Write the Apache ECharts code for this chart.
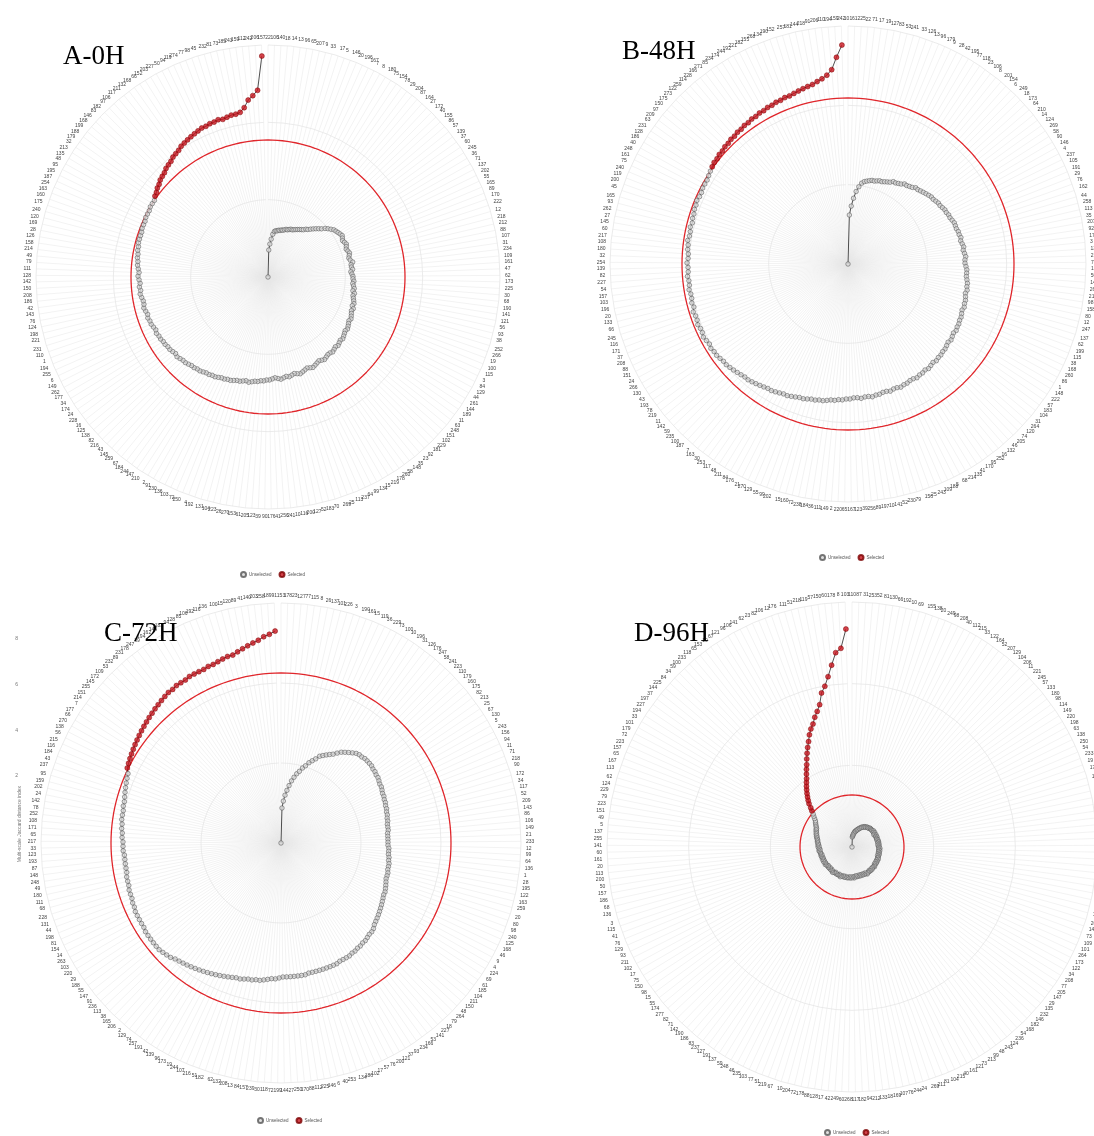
<!DOCTYPE html>
<html><head><meta charset="utf-8">
<script src="https://cdn.jsdelivr.net/npm/echarts@6/dist/echarts.min.js"></script>
<style>html,body{margin:0;padding:0;background:#fff}#c{width:1094px;height:1136px}</style>
</head><body><div id="c"></div>
<script>
// ---------- category labels (node ids around each ring, clockwise from top) ----------
const labelsA = [
22,106,140,18,14,13,96,65,207,9,33,17,5,146,20,
196,167,7,8,180,75,154,78,29,204,87,164,27,172,40,
155,86,57,139,37,60,245,36,71,137,202,55,165,89,170,
222,12,218,212,88,107,31,234,109,161,47,62,173,225,30,
68,190,141,121,56,93,38,252,266,19,100,115,3,84,129,
44,261,144,189,11,63,248,151,102,229,181,92,23,35,148,
58,260,178,219,15,134,99,64,237,113,25,269,70,183,52,
127,200,116,10,241,256,41,176,90,39,123,205,61,153,270,
26,223,104,131,192,4,250,72,103,136,230,91,2,210,147,
244,184,67,259,145,43,216,82,138,125,16,228,24,174,34,
177,262,149,6,255,194,1,110,231,221,198,124,76,143,42,
186,208,150,142,128,111,79,49,214,158,126,28,169,120,240,
175,160,163,254,187,195,95,48,135,213,32,179,188,199,168,
146,83,182,97,106,117,211,132,168,66,152,203,227,50,94,
119,274,77,98,45,232,81,73,185,243,159,112,242,206,157];
const labelsB = [
101,61,225,22,71,17,19,127,83,53,241,33,126,13,96,
179,9,28,42,195,77,118,23,106,8,201,154,6,249,18,
173,64,210,14,124,269,58,90,146,4,237,105,191,29,76,
162,44,258,113,35,207,92,177,3,131,229,70,189,50,143,
26,216,98,158,80,12,247,137,62,199,115,38,168,260,86,
1,148,222,57,183,104,31,264,120,74,205,46,132,16,252,
95,170,41,135,214,68,5,188,109,243,25,156,79,230,52,
141,10,197,89,256,39,123,167,65,220,2,149,111,36,184,
238,72,160,15,202,99,55,129,270,21,176,84,211,48,117,
253,30,163,7,187,100,235,59,142,11,219,78,193,43,130,
266,24,151,88,208,37,171,116,245,66,133,20,196,103,157,
54,227,82,139,254,32,180,108,217,60,145,27,262,93,165,
45,200,119,240,75,161,248,40,186,128,231,63,209,97,150,
175,273,122,259,114,228,166,271,85,234,174,244,192,221,182,
155,268,134,190,152,257,181,144,218,91,206,110,194,159,242];
const labelsC = [
153,178,23,127,77,115,8,26,137,101,226,3,190,161,15,
119,36,229,73,100,10,196,31,126,176,247,58,241,223,110,
179,160,175,82,213,25,67,130,5,243,156,94,11,71,218,
90,172,34,117,52,209,143,86,106,149,21,233,12,99,64,
136,1,28,195,122,163,259,20,80,98,240,125,168,46,9,
4,224,69,61,185,104,211,150,48,264,79,18,227,141,53,
166,234,93,37,121,200,76,57,17,102,186,134,253,40,6,
146,225,112,88,170,250,27,144,199,72,118,30,239,157,84,
13,208,132,62,182,51,216,107,244,19,173,96,139,42,191,
257,74,129,2,206,165,38,113,236,91,147,55,188,29,220,
103,263,14,154,81,198,44,131,228,68,111,180,49,248,148,
87,193,123,33,217,65,171,108,252,78,142,24,202,159,95,
237,43,184,116,215,56,138,270,66,177,7,214,151,255,145,
172,109,53,232,89,231,178,247,39,194,162,144,183,94,128,
85,106,192,116,136,100,15,120,89,41,140,203,258,189,91];
const labelsD = [
110,87,31,253,52,81,130,66,192,10,69,155,138,20,249,
98,208,40,112,215,33,122,164,52,207,129,104,206,11,221,
245,57,133,180,98,114,149,220,198,63,138,250,54,233,19,
171,132,261,45,170,78,140,16,212,176,148,108,58,155,266,
13,167,112,175,238,42,185,209,149,73,109,101,264,173,122,
34,208,77,205,147,29,135,232,146,182,168,54,236,124,243,
48,99,213,73,121,161,40,215,104,81,211,269,24,244,76,
107,169,18,133,212,94,182,117,268,60,249,42,17,128,88,
178,72,204,10,67,219,51,77,103,235,46,248,59,137,191,
127,237,83,186,190,142,71,82,277,174,55,15,98,150,75,
17,102,211,93,129,76,41,115,3,136,68,186,157,50,200,
113,20,161,60,141,255,137,5,49,151,223,79,229,124,62,
113,167,65,157,223,72,179,101,33,194,227,197,37,144,225,
84,34,59,100,233,118,65,153,10,67,121,96,106,141,62,
23,82,106,12,176,111,51,218,119,57,150,60,178,8,103];

// ---------- radial values (distance index, same order as labels) ----------
const valuesA = [
0,27,33,38,43,46,47,47,48,48,49,49,50,51,51,
52,53,53,54,55,56,57,58,59,61,62,64,66,68,70,
72,75,77,79,81,82,83,84,85,84,83,84,85,84,83,
84,85,84,83,84,86,84,84,85,83,84,85,85,86,85,
86,87,86,88,87,88,89,90,89,91,90,91,92,93,92,
93,94,95,94,95,96,97,96,97,98,97,98,99,98,98,
99,100,99,98,99,100,101,100,99,100,101,102,101,100,101,
102,101,102,103,102,101,102,103,103,104,104,105,105,106,107,
106,107,108,108,109,110,110,111,111,112,113,113,114,114,115,
116,116,117,117,118,119,119,120,121,120,121,122,122,123,123,
124,124,125,124,125,126,126,127,126,127,128,127,127,128,129,
128,129,128,129,130,129,130,131,131,132,132,133,133,134,134,
134,134,135,135,135,136,136,136,137,137,137,139,140,142,143,
145,146,147,149,150,151,153,154,155,157,158,159,160,161,162,
163,163,164,164,165,164,165,166,166,167,171,178,182,187,221];
const valuesB = [
0,49,58,66,73,78,82,84,85,86,87,87,88,89,89,
90,91,92,94,94,95,96,98,98,99,100,102,102,103,104,
105,106,107,107,108,109,109,110,111,111,112,112,113,114,114,
114,115,115,116,115,116,117,116,117,118,117,117,118,119,119,
119,120,121,121,122,121,122,123,123,124,123,124,125,125,126,
126,127,126,127,128,127,128,129,129,130,130,131,130,131,132,
131,132,132,133,132,132,133,133,134,133,133,134,133,133,134,
134,135,134,134,135,134,134,135,135,136,136,137,137,138,139,
139,140,140,141,142,142,143,144,145,145,146,147,148,148,149,
150,151,152,153,153,154,155,156,157,158,158,159,160,160,161,
160,161,162,161,161,162,161,161,162,160,161,160,160,161,160,
160,161,160,160,161,160,160,161,161,162,161,161,162,161,162,
162,163,163,164,163,163,164,164,164,165,166,167,168,168,169,
169,170,170,171,171,172,172,173,173,174,174,175,175,176,176,
177,177,178,178,179,180,181,182,183,185,187,190,195,207,219];
const valuesC = [
0,35,42,48,53,58,63,67,71,74,78,81,85,88,91,
95,97,99,101,103,106,109,111,113,115,117,118,118,119,119,
119,119,118,118,117,117,116,115,115,114,113,113,112,112,111,
111,110,110,109,109,108,108,108,107,107,107,107,107,108,108,
108,109,109,110,110,110,111,111,111,112,113,114,115,115,116,
117,118,119,120,121,122,123,124,126,127,127,128,129,129,130,
130,131,131,132,132,132,132,133,133,133,133,133,133,133,133,
133,134,134,134,134,134,134,134,135,136,136,137,138,139,139,
140,140,141,142,142,143,144,145,146,147,148,149,150,151,152,
153,154,155,156,157,159,160,161,162,162,162,162,162,162,161,
161,161,161,161,160,160,159,159,159,158,158,158,157,157,157,
157,157,158,158,158,159,159,160,160,161,161,161,162,162,163,
164,165,166,167,168,171,172,173,174,175,176,177,178,179,180,
181,182,183,184,185,186,187,188,188,189,189,189,190,190,190,
190,191,191,192,193,194,194,196,198,200,202,204,207,209,212];
const valuesD = [
0,10,11,12,13,14,15,16,16,17,18,18,19,20,20,
21,22,22,23,23,24,24,24,25,25,25,25,26,26,26,
26,26,26,27,26,26,27,26,25,26,27,26,26,27,26,
26,26,27,26,27,27,26,27,27,26,27,27,27,28,27,
27,28,27,27,28,27,28,28,27,28,28,28,29,28,28,
29,28,29,29,28,29,29,30,29,29,29,30,29,30,30,
29,30,30,30,31,30,29,30,30,29,30,29,30,29,30,
29,30,30,29,30,31,30,30,31,30,31,30,31,31,31,
30,31,31,30,31,31,32,31,30,31,31,31,31,30,31,
31,32,31,31,30,31,31,30,31,31,30,31,31,32,31,
31,31,32,31,31,32,31,31,32,32,31,32,32,32,33,
33,32,33,33,34,33,34,34,34,35,35,35,36,36,37,
37,38,38,39,39,40,40,41,42,43,44,45,47,49,51,
54,57,61,64,67,70,73,76,79,82,86,90,94,99,104,
109,114,120,125,129,135,140,146,157,163,172,183,195,199,218];

// selection thresholds (red circle)
const thresholdA = 137, thresholdB = 166, thresholdC = 170, thresholdD = 52;
const panelTitles = ['A-0H', 'B-48H', 'C-72H', 'D-96H'];
const legendNames = ['Unselected', 'Selected'];
const sideAxisTicks = [2, 4, 6, 8];
const sideAxisName = 'Multi-scale Jaccard distance index';

// ---------- layout (positions / sizes) ----------
const layout = [
  {center: [268, 277], radius: 232, title: [58, 38], legend: [235, 566]},
  {center: [848, 264], radius: 238, title: [617, 33], legend: [814, 549]},
  {center: [281, 843], radius: 240, title: [99, 615], legend: [252, 1112]},
  {center: [852, 847], radius: 245, title: [629, 615], legend: [819, 1124]}
];
const data = [
  {labels: labelsA, values: valuesA, thr: thresholdA},
  {labels: labelsB, values: valuesB, thr: thresholdB},
  {labels: labelsC, values: valuesC, thr: thresholdC},
  {labels: labelsD, values: valuesD, thr: thresholdD}
];

const polar = [], angleAxis = [], radiusAxis = [], series = [], legend = [], title = [];
data.forEach((d, k) => {
  const L = layout[k];
  const p1 = 2 * k, p2 = 2 * k + 1;
  polar.push({center: L.center, radius: L.radius});
  polar.push({center: L.center, radius: L.radius});
  angleAxis.push({
    polarIndex: p1, type: 'category', data: d.labels.map(String), boundaryGap: false,
    startAngle: 90, clockwise: true,
    axisLine: {show: false}, axisTick: {show: false},
    axisLabel: {interval: 0, fontSize: 5, color: '#444', margin: 5, fontFamily: 'Liberation Sans'},
    splitLine: {show: true, interval: 0, lineStyle: {color: '#e6e6e6', width: 0.5}}
  });
  angleAxis.push({polarIndex: p2, type: 'value', min: 0, max: 360, startAngle: 90, show: false});
  radiusAxis.push({
    polarIndex: p1, type: 'value', min: 0, max: L.radius, interval: L.radius / 3,
    axisLine: {show: false}, axisTick: {show: false}, axisLabel: {show: false},
    splitLine: {show: true, lineStyle: {color: '#dedede', width: 0.6}}
  });
  radiusAxis.push({polarIndex: p2, type: 'value', min: 0, max: L.radius, show: false});

  const all = d.values.map((v, i) => [v, i]);
  series.push({
    type: 'line', coordinateSystem: 'polar', polarIndex: p1, data: all,
    symbol: 'none', silent: true, z: 2, lineStyle: {color: '#222', width: 0.8}
  });
  series.push({
    name: legendNames[0], type: 'scatter', coordinateSystem: 'polar', polarIndex: p1,
    data: all.filter(p => p[0] <= d.thr), symbol: 'circle', symbolSize: 4.5, z: 3,
    itemStyle: {color: '#d9d9d9', borderColor: '#555', borderWidth: 0.7}
  });
  series.push({
    name: legendNames[1], type: 'scatter', coordinateSystem: 'polar', polarIndex: p1,
    data: all.filter(p => p[0] > d.thr), symbol: 'circle', symbolSize: 5, z: 4,
    itemStyle: {color: '#c8141e', borderColor: '#7a0000', borderWidth: 0.6}
  });
  const ring = [];
  for (let a = 0; a <= 360; a += 2) ring.push([d.thr, a]);
  series.push({
    type: 'line', coordinateSystem: 'polar', polarIndex: p2, data: ring,
    symbol: 'none', silent: true, z: 1, lineStyle: {color: '#e0262b', width: 1.3}
  });
  legend.push({
    data: legendNames, left: L.legend[0], top: L.legend[1], icon: 'circle',
    itemWidth: 5, itemHeight: 5, itemGap: 7,
    textStyle: {fontSize: 4.5, color: '#555', padding: [0, 0, 0, -2]}
  });
  title.push({
    text: panelTitles[k], left: L.title[0], top: L.title[1],
    textStyle: {fontFamily: 'Liberation Serif', fontSize: 27, fontWeight: 'normal', color: '#000'}
  });
});

const option = {
  animation: false,
  backgroundColor: '#fff',
  title, legend, polar, angleAxis, radiusAxis,
  grid: {left: 22, top: 639, width: 1, height: 137},
  xAxis: {type: 'value', show: false},
  yAxis: {
    type: 'value', min: sideAxisTicks[0], max: sideAxisTicks[sideAxisTicks.length - 1], interval: 2,
    axisLine: {show: false}, axisTick: {show: false}, splitLine: {show: false},
    axisLabel: {fontSize: 5, color: '#777', margin: 4},
    name: sideAxisName, nameLocation: 'start', nameRotate: 90, nameGap: 10,
    nameTextStyle: {fontSize: 5, color: '#777', align: 'right', verticalAlign: 'bottom'}
  },
  series
};
const chart = echarts.init(document.getElementById('c'));
chart.setOption(option);
</script>
</body></html>
